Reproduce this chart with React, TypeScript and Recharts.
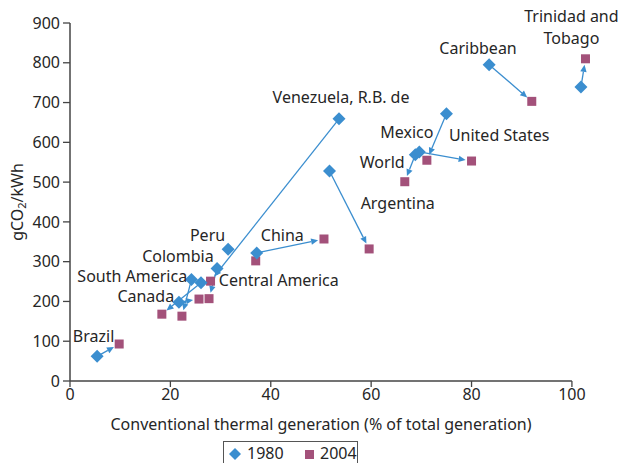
import { ScatterChart, Scatter, XAxis, YAxis, ReferenceLine, ReferenceDot } from 'recharts';

const countries = [
  'Brazil', 'Canada', 'South America', 'Colombia', 'Central America', 'Peru',
  'Venezuela, R.B. de', 'China', 'Argentina', 'World', 'United States', 'Mexico',
  'Caribbean', 'Trinidad and Tobago',
];
const x1980 = [5.4, 21.7, 24.2, 26.1, 29.3, 31.5, 53.6, 37.2, 51.7, 68.8, 69.6, 75.0, 83.5, 101.8];
const y1980 = [62, 198, 255, 247, 283, 331, 659, 322, 528, 569, 576, 672, 795, 739];
const x2004 = [9.8, 25.7, 22.3, 18.3, 27.7, 37.0, 28.0, 50.6, 59.6, 66.7, 80.0, 71.1, 92.0, 102.7];
const y2004 = [93, 206, 163, 168, 207, 302, 251, 357, 332, 501, 553, 555, 703, 810];
const noArrow = ['Peru'];

const xTicks = [0, 20, 40, 60, 80, 100];
const yTicks = [0, 100, 200, 300, 400, 500, 600, 700, 800, 900];

// label anchors (data units), placed by eye
const labels = [
  { text: 'Venezuela, R.B. de', x: 54.0, y: 714 },
  { text: 'Trinidad and', x: 99.9, y: 917 },
  { text: 'Tobago', x: 99.9, y: 862 },
  { text: 'Caribbean', x: 81.3, y: 836 },
  { text: 'Mexico', x: 67.1, y: 625 },
  { text: 'United States', x: 85.5, y: 618 },
  { text: 'World', x: 62.2, y: 549 },
  { text: 'Argentina', x: 65.3, y: 447 },
  { text: 'China', x: 42.3, y: 367 },
  { text: 'Peru', x: 27.4, y: 366 },
  { text: 'Colombia', x: 21.5, y: 313 },
  { text: 'South America', x: 12.4, y: 264 },
  { text: 'Canada', x: 15.1, y: 214 },
  { text: 'Central America', x: 41.6, y: 254 },
  { text: 'Brazil', x: 4.7, y: 113 },
];

const BLUE = '#3b8ecf';
const MAUVE = '#a3517a';
const INK = '#262626';
const FONT = '"Noto Sans", "Open Sans", sans-serif';
const FS = 16;

const data1980 = countries.map((c, i) => ({ country: c, x: x1980[i], y: y1980[i] }));
const data2004 = countries.map((c, i) => ({ country: c, x: x2004[i], y: y2004[i] }));

function Diamond({ cx, cy }: any) {
  const r = 6.5;
  return <polygon points={`${cx},${cy - r} ${cx + r},${cy} ${cx},${cy + r} ${cx - r},${cy}`} fill={BLUE} />;
}

function Square({ cx, cy }: any) {
  return <rect x={cx - 4.5} y={cy - 4.5} width={9} height={9} fill={MAUVE} />;
}

function Arrow({ x1, y1, x2, y2 }: any) {
  const dx = x2 - x1;
  const dy = y2 - y1;
  const len = Math.sqrt(dx * dx + dy * dy) || 1;
  const ux = dx / len;
  const uy = dy / len;
  const tipX = x2 - ux * 6;
  const tipY = y2 - uy * 6;
  const bx = tipX - ux * 7;
  const by = tipY - uy * 7;
  const px = -uy * 3.2;
  const py = ux * 3.2;
  return (
    <g>
      <line x1={x1} y1={y1} x2={bx} y2={by} stroke={BLUE} strokeWidth={1.3} />
      <polygon points={`${tipX},${tipY} ${bx + px},${by + py} ${bx - px},${by - py}`} fill={BLUE} />
    </g>
  );
}

function YLabel({ viewBox }: any) {
  const cx = 17;
  const cy = viewBox.y + viewBox.height / 2;
  return (
    <text x={cx} y={cy} transform={`rotate(-90 ${cx} ${cy})`} textAnchor="middle" dominantBaseline="central"
      fill={INK} fontSize={FS} fontFamily={FONT}>
      gCO<tspan fontSize={11} dy={4}>2</tspan><tspan dy={-4}>/kWh</tspan>
    </text>
  );
}

export default function App() {
  return (
    <div style={{ position: 'absolute', left: 0, top: 0, width: 621, height: 463, background: '#fff' }}>
      <ScatterChart width={621} height={463} margin={{ top: 23, right: 29, bottom: 32, left: 0 }}>
        <XAxis
          type="number"
          dataKey="x"
          domain={[0, 104]}
          ticks={xTicks}
          axisLine={false}
          tickLine={{ stroke: '#444', strokeWidth: 1.3 }}
          tickSize={6}
          tickMargin={2}
          height={50}
          tick={{ fontSize: FS, fill: INK, fontFamily: FONT }}
          label={{ value: 'Conventional thermal generation (% of total generation)', position: 'insideBottom', offset: 1, dx: -10, fontSize: FS, fill: INK, fontFamily: FONT }}
        />
        <YAxis
          type="number"
          dataKey="y"
          domain={[0, 900]}
          ticks={yTicks}
          width={70}
          axisLine={{ stroke: '#444', strokeWidth: 1.5 }}
          tickLine={{ stroke: '#444', strokeWidth: 1.3 }}
          tickSize={7}
          tickMargin={3}
          tick={{ fontSize: FS, fill: INK, fontFamily: FONT }}
          label={<YLabel />}
        />
        <ReferenceLine segment={[{ x: 0, y: 0 }, { x: 100, y: 0 }]} stroke="#444" strokeWidth={1.5} ifOverflow="visible" />
        {countries.map((c, i) =>
          noArrow.includes(c) ? null : (
            <ReferenceLine
              key={c}
              segment={[{ x: x1980[i], y: y1980[i] }, { x: x2004[i], y: y2004[i] }]}
              ifOverflow="visible"
              shape={(p: any) => <Arrow {...p} />}
            />
          ),
        )}
        <Scatter name="2004" data={data2004} shape={<Square />} isAnimationActive={false} />
        <Scatter name="1980" data={data1980} shape={<Diamond />} isAnimationActive={false} />
        {labels.map((l) => (
          <ReferenceDot
            key={l.text}
            x={l.x}
            y={l.y}
            r={0}
            ifOverflow="visible"
            stroke="none"
            label={{ value: l.text, position: 'center', fontSize: FS, fill: INK, fontFamily: FONT }}
          />
        ))}
      </ScatterChart>
      <div
        style={{
          position: 'absolute', left: 223, top: 441, width: 135, height: 30, border: '1.3px solid #555',
          boxSizing: 'border-box', fontFamily: FONT, fontSize: FS, color: INK,
        }}
      >
        <svg width={135} height={30} style={{ position: 'absolute', left: 0, top: 0 }}>
          <polygon points="11,6 17,12 11,18 5,12" fill={BLUE} />
          <rect x={81} y={8} width={9} height={9} fill={MAUVE} />
        </svg>
        <span style={{ position: 'absolute', left: 23, top: 1, lineHeight: '20px' }}>1980</span>
        <span style={{ position: 'absolute', left: 96, top: 1, lineHeight: '20px' }}>2004</span>
      </div>
    </div>
  );
}
